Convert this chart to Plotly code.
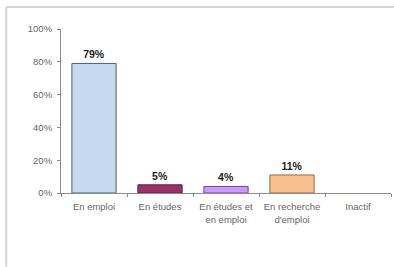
import plotly.graph_objects as go

categories = ["En emploi", "En études", "En études et<br>en emploi", "En recherche<br>d'emploi", "Inactif"]
values = [0.79, 0.05, 0.04, 0.11, 0.0]
labels = ["79%", "5%", "4%", "11%", ""]
colors = ["#C6D9F1", "#993366", "#CC99FF", "#FAC090", "#FFFFFF"]
line_colors = ["#4A5F7A", "#5A2040", "#6A4A8A", "#8A6A4A", "#FFFFFF"]
y_ticks = [0, 0.2, 0.4, 0.6, 0.8, 1.0]
y_ticktext = ["0%", "20%", "40%", "60%", "80%", "100%"]

fig = go.Figure(go.Bar(
    x=categories, y=values, text=labels, textposition="outside",
    textfont=dict(family="Arial, Liberation Sans", size=10.5, color="#222222"),
    marker=dict(color=colors, line=dict(color=line_colors, width=1)),
    width=0.67, cliponaxis=False, hoverinfo="skip",
))
fig.update_traces(texttemplate="<b>%{text}</b>")

fig.update_layout(
    width=394, height=267,
    margin=dict(l=61, r=3, t=29, b=74),
    paper_bgcolor="white", plot_bgcolor="white",
    showlegend=False,
    font=dict(family="Arial, Liberation Sans", size=9.5, color="#595959"),
    xaxis=dict(showline=True, linecolor="#8C8C8C", linewidth=1, ticks="outside",
               tickson="boundaries", ticklen=3, tickcolor="#8C8C8C",
               ticklabelstandoff=5,
               tickfont=dict(size=9.5, color="#666666"), showgrid=False),
    yaxis=dict(range=[0, 1], tickvals=y_ticks, ticktext=y_ticktext,
               showline=True, linecolor="#8C8C8C", linewidth=1, ticks="outside",
               ticklen=3, tickcolor="#8C8C8C", showgrid=False, zeroline=False,
               ticklabelstandoff=3,
               tickfont=dict(size=9.5, color="#666666")),
    shapes=[
        dict(type="line", xref="paper", yref="paper", x0=-0.166, x1=1.009, y0=1.134, y1=1.134,
             line=dict(color="#D4D4D4", width=2)),
        dict(type="line", xref="paper", yref="paper", x0=-0.166, x1=-0.166, y0=1.134, y1=-0.45,
             line=dict(color="#D4D4D4", width=2)),
    ],
)

fig.write_html("out.html", config={"displayModeBar": False},
               post_script="document.body.style.margin='0';document.body.style.overflow='hidden';")
